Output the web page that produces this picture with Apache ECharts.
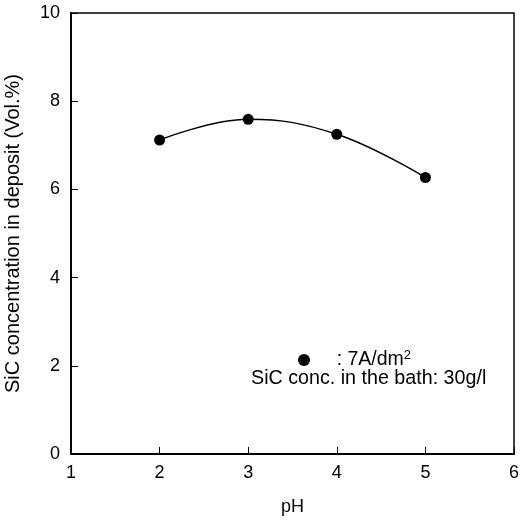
<!DOCTYPE html>
<html>
<head>
    <meta charset="UTF-8">
    <title>SiC concentration vs pH</title>
    <script src="https://cdn.jsdelivr.net/npm/echarts@6/dist/echarts.min.js"></script>
    <style>
        html, body { margin: 0; padding: 0; background: #fff; }
        #chart { width: 522px; height: 524px; }
    </style>
</head>
<body>
<div id="chart"></div>
<script>
    // 数据
    var phValues = [2, 3, 4, 5];
    var sicValues = [7.12, 7.59, 7.25, 6.27];
    var xTicks = [1, 2, 3, 4, 5, 6];
    var yTicks = [0, 2, 4, 6, 8, 10];

    var seriesData = phValues.map(function (v, i) { return [v, sicValues[i]]; });
    var font = 'Liberation Sans, Arial, sans-serif';

    var chart = echarts.init(document.getElementById('chart'), null, {renderer: 'canvas'});
    chart.setOption({
        backgroundColor: '#fff',
        animation: false,
        grid: {
            left: 71, right: 8, top: 13, bottom: 70,
            outerBoundsMode: 'none', containLabel: false,
            show: true, borderColor: '#000', borderWidth: 1.5
        },
        xAxis: {
            type: 'value',
            min: xTicks[0], max: xTicks[xTicks.length - 1], interval: 1,
            name: 'pH', nameLocation: 'middle', nameGap: 44,
            nameTextStyle: {color: '#000', fontSize: 18, fontFamily: font},
            axisLine: {lineStyle: {color: '#000', width: 1.8}},
            axisTick: {inside: true, length: 7, lineStyle: {color: '#000'}},
            axisLabel: {color: '#000', fontSize: 18, fontFamily: font, margin: 10},
            splitLine: {show: false}
        },
        yAxis: {
            type: 'value',
            min: yTicks[0], max: yTicks[yTicks.length - 1], interval: 2,
            name: 'SiC concentration in deposit (Vol.%)', nameLocation: 'middle', nameGap: 48,
            nameTextStyle: {color: '#000', fontSize: 20, fontFamily: font},
            axisLine: {lineStyle: {color: '#000', width: 1.8}},
            axisTick: {inside: true, length: 7, lineStyle: {color: '#000'}},
            axisLabel: {color: '#000', fontSize: 18, fontFamily: font, margin: 11},
            splitLine: {show: false}
        },
        legend: {
            left: 293, top: 344,
            data: ['7A'],
            icon: 'circle', itemWidth: 12, itemHeight: 12, itemGap: 0,
            formatter: function () { return '{a|    : 7A/dm}{s|2}'; },
            textStyle: {
                color: '#000', fontFamily: font,
                rich: {
                    a: {fontSize: 19.5, fontFamily: font, color: '#000'},
                    s: {fontSize: 13, fontFamily: font, color: '#000', verticalAlign: 'top', padding: [0, 0, 9, 0]}
                }
            }
        },
        graphic: [{
            type: 'text', left: 251, top: 369,
            style: {text: 'SiC conc. in the bath: 30g/l', fontSize: 19.7, fontFamily: font, fill: '#000'}
        }],
        series: [{
            name: '7A',
            type: 'line',
            data: seriesData,
            smooth: 0.4,
            symbol: 'circle', symbolSize: 11,
            itemStyle: {color: '#000'},
            lineStyle: {color: '#000', width: 1.5}
        }]
    });
</script>
</body>
</html>
